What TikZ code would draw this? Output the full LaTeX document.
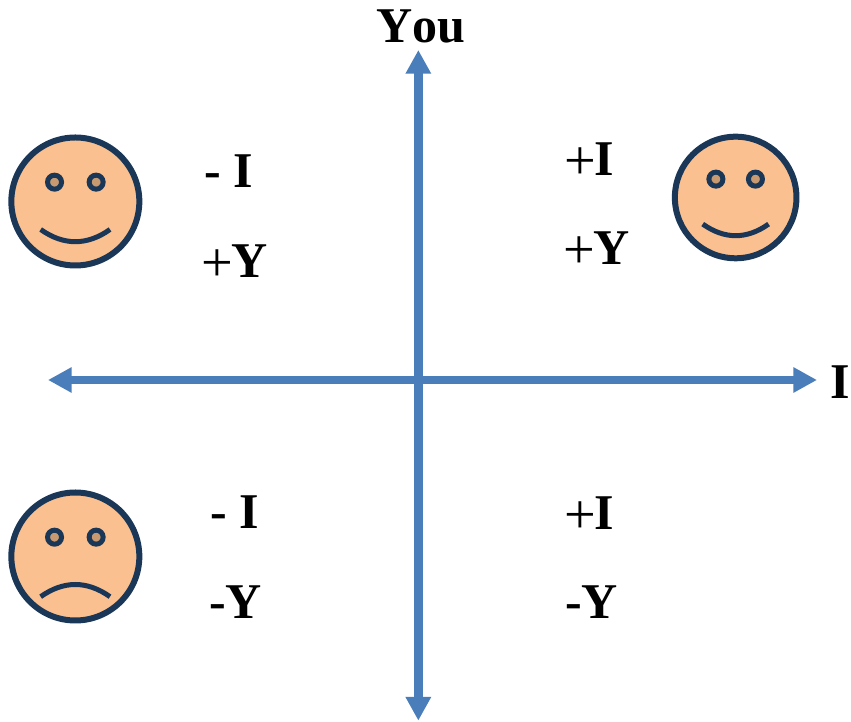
\documentclass[tikz,border=0pt]{standalone}
\usepackage{fontspec}
\setmainfont{Liberation Serif}
\usetikzlibrary{arrows.meta}
\definecolor{AxisBlue}{HTML}{4A7EBB}
\definecolor{FaceInk}{HTML}{1B3757}
\definecolor{FaceFill}{HTML}{FAC090}
\definecolor{EyeFill}{HTML}{C99A70}
\newcommand{\PlusSign}{\raisebox{-0.12cm}{\fontsize{48}{48}\mdseries\selectfont +}\kern-0.05cm}
\newcommand{\FaceIcon}[5]{%
  \node[face,minimum size=#3*3.84cm] (#1) at #2 {};
  \node[eye] (#1EyeL) at ([shift={(#3*-0.624,#3*0.58)}]#1.center) {};
  \node[eye] (#1EyeR) at ([shift={(#3*0.624,#3*0.58)}]#1.center) {};
  \draw[mouth] ([shift={(#3*-1.04,#3*#4)}]#1.center)
    .. controls ([shift={(#3*-0.35,#3*#5)}]#1.center) and ([shift={(#3*0.35,#3*#5)}]#1.center)
    .. ([shift={(#3*1.04,#3*#4)}]#1.center);
}
\tikzset{
  figure/.style={text=black},
  face/.style={circle,draw=FaceInk,line width=0.18cm,fill=FaceFill,inner sep=0pt},
  eye/.style={circle,draw=FaceInk,line width=0.15cm,fill=EyeFill,inner sep=0pt,minimum size=0.42cm},
  mouth/.style={draw=FaceInk,line width=0.15cm},
  axis/.style={{Triangle[length=0.71cm,width=0.72cm]}-{Triangle[length=0.71cm,width=0.72cm]},line width=0.25cm,draw=AxisBlue},
  tag/.style={anchor=base west,inner sep=0pt,font=\fontsize{42.7}{48}\selectfont\bfseries},
}

\begin{document}
\begin{tikzpicture}[figure]
  \useasboundingbox (0,0) rectangle (25.53,21.63);

  \coordinate (AxisW) at (1.44,10.23);
  \coordinate (AxisE) at (24.51,10.23);
  \coordinate (AxisN) at (12.55,20.13);
  \coordinate (AxisS) at (12.55,0.01);
  \draw[axis] (AxisW) -- (AxisE);
  \draw[axis] (AxisS) -- (AxisN);

  \node[tag] (YouLabel) at (11.28,20.35) {\addfontfeature{Kerning=Off}You};
  \node[tag] (MeLabel) at (24.90,9.66) {I};

  \FaceIcon{FaceNW}{(2.26,15.585)}{1}{-0.84}{-1.328}
  \FaceIcon{FaceNE}{(22.07,15.705)}{0.95}{-0.84}{-1.328}
  \FaceIcon{FaceSW}{(2.26,4.935)}{1}{-1.206}{-0.718}

  \node[tag] (NWme) at (6.12,15.99) {- I};
  \node[tag] (NWyou) at (6.03,13.29) {\PlusSign Y};
  \node[tag] (NEme) at (16.92,16.37) {\PlusSign I};
  \node[tag] (NEyou) at (16.89,13.68) {\PlusSign Y};
  \node[tag] (SWme) at (6.30,5.76) {- I};
  \node[tag] (SWyou) at (6.27,3.06) {-Y};
  \node[tag] (SEme) at (16.92,5.75) {\PlusSign I};
  \node[tag] (SEyou) at (16.95,3.06) {-Y};
\end{tikzpicture}
\end{document}
